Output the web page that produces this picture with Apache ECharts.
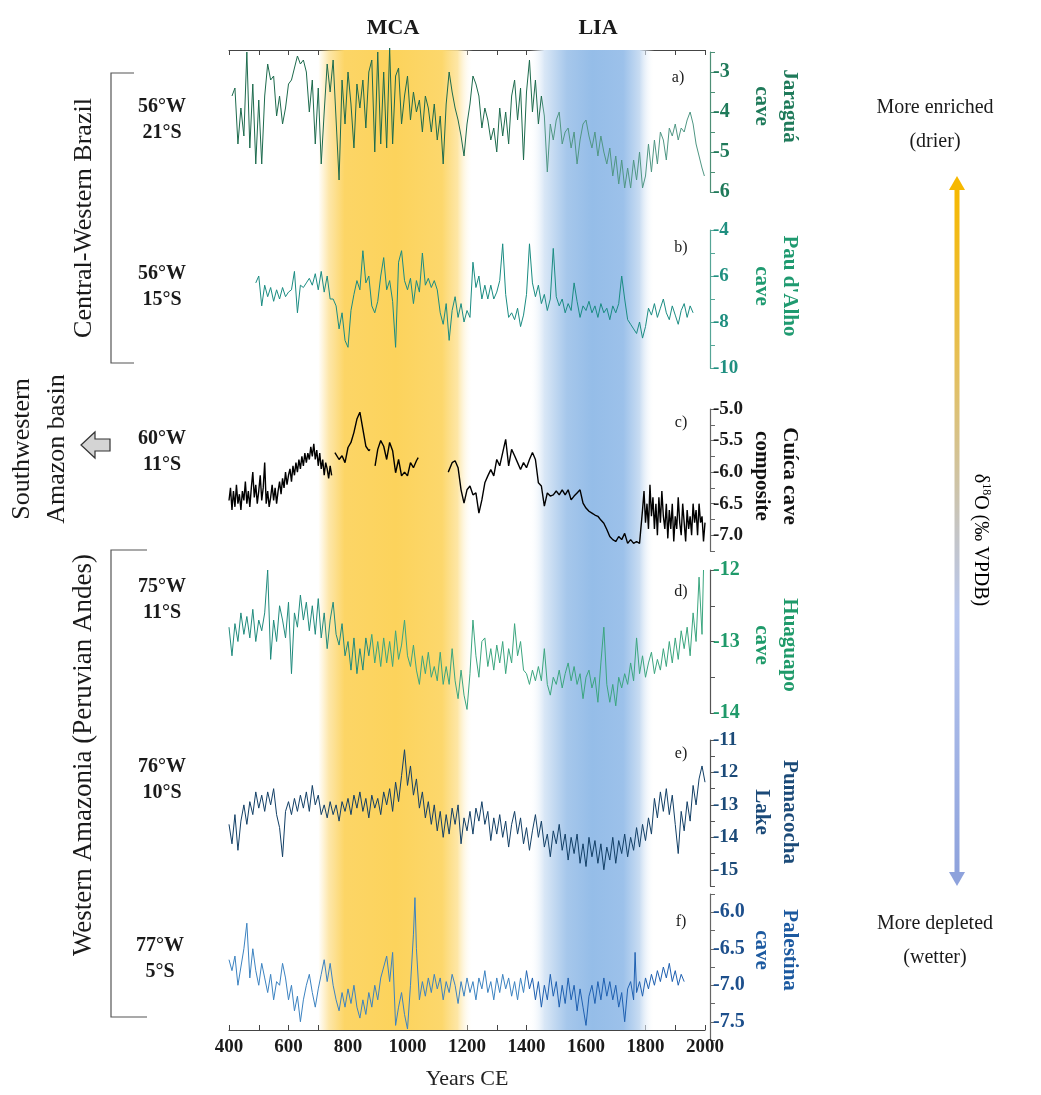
<!DOCTYPE html>
<html><head><meta charset="utf-8">
<script src="https://cdn.jsdelivr.net/npm/echarts/dist/echarts.min.js"></script>
<style>html,body{margin:0;padding:0;background:#fff}#c{width:1041px;height:1095px}</style>
</head><body><div id="c"></div>
<script>
// ---------------- DATA ----------------
const xTickLabels = [400,600,800,1000,1200,1400,1600,1800,2000];
const periods = [{name:'MCA', start:700, end:1220}, {name:'LIA', start:1410, end:1830}];

// a) Jaraguá cave (δ18O ‰)
const jaragua = [[410,-3.6],[420,-3.4],[430,-4.8],[440,-3.9],[450,-4.6],[460,-2.5],[470,-4.9],[480,-3.3],[490,-5.3],[500,-3.7],[510,-5.3],[520,-3.6],[530,-2.8],[540,-3.2],[550,-3.1],[560,-4.1],[570,-3.6],[580,-4.3],[590,-3.9],[600,-3.3],[610,-3.2],[620,-2.9],[630,-2.6],[640,-2.8],[650,-2.7],[660,-3.0],[670,-4.0],[680,-3.2],[690,-4.8],[700,-3.4],[710,-5.3],[720,-4.0],[730,-2.8],[740,-3.5],[750,-2.7],[760,-4.2],[770,-5.7],[780,-3.2],[790,-4.3],[800,-3.0],[810,-3.8],[820,-4.9],[830,-3.3],[840,-3.9],[850,-3.2],[860,-4.4],[870,-3.0],[880,-2.7],[890,-5.0],[900,-2.5],[910,-4.8],[920,-3.0],[930,-4.9],[940,-2.4],[950,-4.8],[960,-3.1],[970,-2.9],[980,-4.3],[990,-3.6],[1000,-3.1],[1010,-4.2],[1020,-3.5],[1030,-4.0],[1040,-3.7],[1050,-4.5],[1060,-3.6],[1070,-3.9],[1080,-4.5],[1090,-3.8],[1100,-4.7],[1110,-4.1],[1120,-5.3],[1130,-3.8],[1140,-3.0],[1150,-3.5],[1160,-3.9],[1170,-4.2],[1180,-4.6],[1190,-5.1],[1200,-4.3],[1210,-3.8],[1220,-3.1],[1230,-3.3],[1240,-3.6],[1250,-4.4],[1260,-3.9],[1270,-4.2],[1280,-4.7],[1290,-4.4],[1300,-5.0],[1310,-3.9],[1320,-4.6],[1330,-4.0],[1340,-4.8],[1350,-3.6],[1360,-3.2],[1370,-4.2],[1380,-3.4],[1390,-5.2],[1400,-3.5],[1410,-2.7],[1420,-4.0],[1430,-3.2],[1440,-4.3],[1450,-3.6],[1460,-4.1],[1470,-5.5],[1480,-4.3],[1490,-4.7],[1500,-4.2],[1510,-4.0],[1520,-4.8],[1530,-4.5],[1540,-4.4],[1550,-4.9],[1560,-4.5],[1570,-5.3],[1580,-4.7],[1590,-4.3],[1600,-4.2],[1610,-4.6],[1620,-4.9],[1630,-4.5],[1640,-5.1],[1650,-4.6],[1660,-5.0],[1670,-5.3],[1680,-4.9],[1690,-5.6],[1700,-5.1],[1710,-5.8],[1720,-5.2],[1730,-5.9],[1740,-5.4],[1750,-5.9],[1760,-5.2],[1770,-5.7],[1780,-5.0],[1790,-5.9],[1800,-5.6],[1810,-4.8],[1820,-5.5],[1830,-4.7],[1840,-5.3],[1850,-4.5],[1860,-4.7],[1870,-5.2],[1880,-4.4],[1890,-4.6],[1900,-4.3],[1910,-4.7],[1920,-4.4],[1930,-4.5],[1940,-4.2],[1950,-4.0],[1960,-4.3],[1970,-4.8],[1980,-5.1],[1990,-5.4],[1998,-5.6]];

// b) Pau d'Alho cave
const pauDAlho = [[490,-6.3],[500,-6.0],[510,-7.3],[520,-6.4],[530,-6.9],[540,-6.5],[550,-7.1],[560,-6.6],[570,-7.0],[580,-6.5],[590,-6.9],[600,-6.7],[610,-6.6],[620,-5.8],[630,-7.6],[640,-6.4],[650,-6.5],[660,-6.3],[670,-6.1],[680,-6.4],[690,-5.9],[700,-6.6],[710,-5.8],[720,-6.7],[730,-6.0],[740,-7.0],[750,-7.0],[760,-7.3],[770,-8.3],[780,-7.6],[790,-8.8],[800,-9.1],[810,-7.5],[820,-6.8],[830,-6.2],[840,-6.6],[850,-4.9],[860,-6.3],[870,-6.0],[880,-7.3],[890,-7.6],[900,-7.1],[910,-6.0],[920,-5.2],[930,-6.6],[940,-6.2],[950,-7.1],[960,-9.1],[970,-5.4],[980,-4.9],[990,-6.2],[1000,-6.6],[1010,-6.1],[1020,-7.2],[1030,-6.2],[1040,-6.7],[1050,-5.0],[1060,-6.4],[1070,-6.1],[1080,-6.5],[1090,-6.2],[1100,-6.6],[1110,-7.6],[1120,-8.1],[1130,-7.2],[1140,-8.8],[1150,-7.5],[1160,-6.9],[1170,-7.8],[1180,-7.2],[1190,-8.0],[1200,-7.5],[1210,-7.8],[1220,-5.4],[1230,-6.5],[1240,-6.0],[1250,-7.0],[1260,-6.4],[1270,-7.0],[1280,-6.4],[1290,-7.0],[1300,-6.7],[1310,-6.2],[1320,-4.6],[1330,-6.8],[1340,-7.8],[1350,-7.6],[1360,-7.9],[1370,-7.4],[1380,-8.2],[1390,-7.7],[1400,-6.8],[1410,-4.6],[1420,-6.3],[1430,-6.9],[1440,-6.4],[1450,-7.2],[1460,-6.8],[1470,-7.5],[1480,-7.0],[1490,-4.8],[1500,-6.9],[1510,-7.3],[1520,-7.0],[1530,-7.6],[1540,-7.2],[1550,-7.5],[1560,-6.3],[1570,-7.1],[1580,-7.8],[1590,-7.3],[1600,-7.5],[1610,-7.1],[1620,-7.6],[1630,-7.3],[1640,-7.8],[1650,-7.2],[1660,-7.6],[1670,-7.4],[1680,-7.9],[1690,-7.3],[1700,-7.6],[1710,-7.2],[1720,-6.0],[1730,-7.0],[1740,-7.9],[1750,-8.1],[1760,-8.3],[1770,-8.5],[1780,-8.0],[1790,-8.7],[1800,-8.2],[1810,-7.4],[1820,-7.7],[1830,-7.2],[1840,-7.8],[1850,-7.4],[1860,-7.0],[1870,-7.6],[1880,-7.9],[1890,-7.3],[1900,-7.7],[1910,-8.1],[1920,-7.5],[1930,-7.2],[1940,-7.8],[1950,-7.3],[1960,-7.6]];

// c) Cuíca cave composite (null = gap in record)
const cuica = [[400,-6.45],[405,-6.25],[410,-6.6],[415,-6.3],[420,-6.55],[425,-6.2],[430,-6.5],[435,-6.35],[440,-6.6],[445,-6.3],[450,-6.45],[455,-6.15],[460,-6.5],[465,-6.3],[470,-6.55],[475,-6.25],[480,-6.0],[485,-6.4],[490,-6.2],[495,-6.5],[500,-6.3],[505,-6.05],[510,-6.45],[515,-6.25],[520,-5.85],[525,-6.5],[530,-6.3],[535,-6.55],[540,-6.4],[545,-6.2],[550,-6.45],[555,-6.25],[560,-6.5],[565,-6.3],[570,-6.15],[575,-6.35],[580,-6.1],[585,-6.25],[590,-6.0],[595,-6.2],[600,-6.05],[605,-5.95],[610,-6.15],[615,-5.9],[620,-6.05],[625,-5.85],[630,-6.0],[635,-5.8],[640,-5.95],[645,-5.75],[650,-5.9],[655,-5.7],[660,-5.85],[665,-5.7],[670,-5.8],[675,-5.6],[680,-5.75],[685,-5.55],[690,-5.8],[695,-5.65],[700,-5.9],[705,-5.7],[710,-5.95],[715,-5.8],[720,-6.05],[725,-5.85],[730,-5.95],[735,-6.1],[740,-5.9],[745,-6.05],[750,null],
[756,-5.69],[770,-5.8],[780,-5.74],[790,-5.85],[800,-5.61],[810,-5.53],[820,-5.37],[830,-5.16],[840,-5.05],[850,-5.32],[860,-5.59],[870,-5.66],[874,-5.64],[882,null],
[891,-5.9],[900,-5.64],[910,-5.5],[920,-5.59],[930,-5.8],[940,-5.53],[950,-5.66],[960,-6.01],[970,-5.8],[980,-6.06],[990,-6.0],[1000,-6.06],[1010,-5.85],[1020,-5.93],[1030,-5.82],[1036,-5.77],[1090,null],
[1137,-6.0],[1150,-5.85],[1160,-5.82],[1170,-5.93],[1180,-6.28],[1190,-6.49],[1200,-6.28],[1210,-6.22],[1220,-6.36],[1230,-6.33],[1240,-6.65],[1250,-6.44],[1260,-6.17],[1270,-6.06],[1280,-5.96],[1290,-6.06],[1300,-5.8],[1310,-5.9],[1320,-5.69],[1330,-5.48],[1340,-5.9],[1350,-5.64],[1360,-5.74],[1370,-5.85],[1380,-5.96],[1390,-5.85],[1400,-5.93],[1410,-5.8],[1420,-5.69],[1430,-5.8],[1440,-6.17],[1450,-6.22],[1460,-6.54],[1470,-6.33],[1480,-6.38],[1490,-6.36],[1500,-6.3],[1510,-6.36],[1520,-6.28],[1530,-6.36],[1540,-6.28],[1550,-6.44],[1560,-6.38],[1570,-6.33],[1580,-6.28],[1590,-6.49],[1600,-6.57],[1610,-6.62],[1620,-6.65],[1630,-6.68],[1640,-6.7],[1650,-6.76],[1660,-6.81],[1670,-6.91],[1680,-7.02],[1690,-7.07],[1700,-7.1],[1710,-7.02],[1720,-7.07],[1730,-6.97],[1740,-7.13],[1750,-7.07],[1760,-7.13],[1770,-7.1],[1780,-7.13],[1785,-7.15],[1790,-6.6],[1795,-6.3],[1800,-6.8],[1805,-6.5],[1810,-6.9],[1815,-6.2],[1820,-6.7],[1825,-6.4],[1830,-6.9],[1835,-6.5],[1840,-7.0],[1845,-6.4],[1850,-6.8],[1855,-6.3],[1860,-6.7],[1865,-6.9],[1870,-6.5],[1875,-7.05],[1880,-6.6],[1885,-6.9],[1890,-6.5],[1895,-7.1],[1900,-6.7],[1905,-6.9],[1910,-6.4],[1915,-6.8],[1920,-7.0],[1925,-6.5],[1930,-6.8],[1935,-7.1],[1940,-6.6],[1945,-6.9],[1950,-6.7],[1955,-7.0],[1960,-6.5],[1965,-6.8],[1970,-6.6],[1975,-7.0],[1980,-6.5],[1985,-6.8],[1990,-6.7],[1995,-7.1],[2000,-6.8]];

// d) Huaguapo cave
const huaguapo = [[400,-12.8],[410,-13.2],[420,-12.75],[430,-13.0],[440,-12.6],[450,-12.9],[460,-12.65],[470,-12.95],[480,-12.55],[490,-13.0],[500,-12.7],[510,-12.85],[520,-12.6],[530,-12.0],[540,-13.25],[550,-12.7],[560,-13.0],[570,-12.5],[580,-12.7],[590,-12.95],[600,-12.45],[610,-13.45],[620,-12.6],[630,-12.8],[640,-12.35],[650,-12.7],[660,-12.45],[670,-12.85],[680,-12.5],[690,-12.9],[700,-12.4],[710,-12.95],[720,-12.6],[730,-13.1],[740,-12.7],[750,-12.45],[760,-12.9],[770,-13.05],[780,-12.75],[790,-13.2],[800,-13.0],[810,-13.4],[820,-12.95],[830,-13.45],[840,-13.1],[850,-13.4],[860,-12.95],[870,-13.2],[880,-12.9],[890,-13.3],[900,-13.0],[910,-13.35],[920,-12.95],[930,-13.3],[940,-13.0],[950,-13.35],[960,-12.85],[970,-13.25],[980,-13.05],[990,-12.7],[1000,-13.2],[1010,-13.35],[1020,-13.05],[1030,-13.4],[1040,-13.6],[1050,-13.2],[1060,-13.45],[1070,-13.15],[1080,-13.5],[1090,-13.35],[1100,-13.55],[1110,-13.15],[1120,-13.6],[1130,-13.35],[1140,-13.6],[1150,-13.1],[1160,-13.55],[1170,-13.8],[1180,-13.4],[1190,-13.75],[1200,-13.95],[1210,-13.45],[1220,-12.7],[1230,-13.2],[1240,-13.5],[1250,-13.0],[1260,-12.95],[1270,-13.35],[1280,-13.1],[1290,-13.4],[1300,-13.05],[1310,-13.3],[1320,-13.0],[1330,-13.45],[1340,-13.1],[1350,-13.3],[1360,-12.75],[1370,-13.2],[1380,-13.0],[1390,-13.4],[1400,-13.45],[1410,-13.6],[1420,-13.4],[1430,-13.55],[1440,-13.35],[1450,-13.55],[1460,-13.1],[1470,-13.6],[1480,-13.75],[1490,-13.5],[1500,-13.6],[1510,-13.4],[1520,-13.65],[1530,-13.45],[1540,-13.3],[1550,-13.55],[1560,-13.35],[1570,-13.6],[1580,-13.45],[1590,-13.8],[1600,-13.5],[1610,-13.4],[1620,-13.65],[1630,-13.5],[1640,-13.85],[1650,-13.3],[1660,-12.8],[1670,-13.6],[1680,-13.85],[1690,-13.6],[1700,-13.9],[1710,-13.5],[1720,-13.65],[1730,-13.45],[1740,-13.6],[1750,-13.3],[1760,-13.55],[1770,-12.95],[1780,-13.45],[1790,-13.2],[1800,-13.5],[1810,-13.3],[1820,-13.15],[1830,-13.45],[1840,-13.25],[1850,-13.4],[1860,-13.1],[1870,-13.35],[1880,-13.0],[1890,-13.3],[1900,-12.95],[1910,-13.25],[1920,-12.85],[1930,-13.1],[1940,-12.8],[1950,-13.2],[1960,-12.6],[1970,-13.0],[1980,-12.1],[1990,-12.9],[1995,-12.0]];

// e) Pumacocha Lake
const pumacocha = [[400,-13.6],[410,-14.2],[420,-13.3],[430,-14.4],[440,-13.5],[450,-13.0],[460,-13.6],[470,-12.9],[480,-13.3],[490,-12.6],[500,-13.1],[510,-12.7],[520,-13.2],[530,-12.6],[540,-13.0],[550,-12.5],[560,-13.3],[570,-13.7],[580,-14.6],[590,-13.2],[600,-12.9],[610,-13.3],[620,-12.8],[630,-13.2],[640,-12.7],[650,-13.1],[660,-12.6],[670,-13.2],[680,-12.4],[690,-13.0],[700,-12.7],[710,-13.3],[720,-13.0],[730,-13.4],[740,-12.9],[750,-13.3],[760,-13.0],[770,-13.5],[780,-12.9],[790,-13.2],[800,-12.8],[810,-13.3],[820,-12.7],[830,-13.1],[840,-12.6],[850,-13.2],[860,-12.8],[870,-13.4],[880,-12.7],[890,-13.1],[900,-12.8],[910,-13.3],[920,-12.6],[930,-13.0],[940,-12.5],[950,-13.2],[960,-12.3],[970,-12.9],[980,-12.1],[990,-11.3],[1000,-12.4],[1010,-11.8],[1020,-12.7],[1030,-12.2],[1040,-13.1],[1050,-12.6],[1060,-13.4],[1070,-12.9],[1080,-13.6],[1090,-13.0],[1100,-13.8],[1110,-13.2],[1120,-14.0],[1130,-13.3],[1140,-13.9],[1150,-13.1],[1160,-13.6],[1170,-13.0],[1180,-14.2],[1190,-13.4],[1200,-13.8],[1210,-13.2],[1220,-13.9],[1230,-13.1],[1240,-13.5],[1250,-12.9],[1260,-13.6],[1270,-13.2],[1280,-14.1],[1290,-13.4],[1300,-13.9],[1310,-13.3],[1320,-14.0],[1330,-13.5],[1340,-14.3],[1350,-13.6],[1360,-13.2],[1370,-13.9],[1380,-13.4],[1390,-14.2],[1400,-13.7],[1410,-14.4],[1420,-13.8],[1430,-13.3],[1440,-14.0],[1450,-13.5],[1460,-14.3],[1470,-13.9],[1480,-14.6],[1490,-13.8],[1500,-14.2],[1510,-13.6],[1520,-14.4],[1530,-13.9],[1540,-14.7],[1550,-14.0],[1560,-14.5],[1570,-13.9],[1580,-14.8],[1590,-14.2],[1600,-14.9],[1610,-14.0],[1620,-14.6],[1630,-14.1],[1640,-14.8],[1650,-14.2],[1660,-15.0],[1670,-14.3],[1680,-14.7],[1690,-14.0],[1700,-14.8],[1710,-14.1],[1720,-14.5],[1730,-13.9],[1740,-14.6],[1750,-14.0],[1760,-14.4],[1770,-13.7],[1780,-14.3],[1790,-13.6],[1800,-14.1],[1810,-13.4],[1820,-13.9],[1830,-12.8],[1840,-13.4],[1850,-12.6],[1860,-13.2],[1870,-12.5],[1880,-13.3],[1890,-12.7],[1900,-13.6],[1910,-14.5],[1920,-13.2],[1930,-13.8],[1940,-12.9],[1950,-13.5],[1960,-12.4],[1970,-13.0],[1980,-12.2],[1990,-11.8],[2000,-12.3]];

// f) Palestina cave
const palestina = [[400,-6.65],[410,-6.8],[420,-6.6],[430,-7.0],[440,-6.75],[450,-6.5],[460,-6.15],[470,-6.9],[480,-6.5],[490,-6.8],[500,-7.0],[510,-6.7],[520,-6.9],[530,-7.1],[540,-6.85],[550,-7.2],[560,-6.95],[570,-7.0],[580,-6.7],[590,-6.9],[600,-7.2],[610,-7.0],[620,-7.35],[630,-7.15],[640,-7.5],[650,-7.2],[660,-7.0],[670,-6.85],[680,-7.1],[690,-7.3],[700,-7.05],[710,-6.85],[720,-6.65],[730,-6.95],[740,-6.7],[750,-7.0],[760,-7.2],[770,-7.35],[780,-7.1],[790,-7.3],[800,-7.05],[810,-7.25],[820,-7.0],[830,-7.3],[840,-7.45],[850,-7.2],[860,-7.4],[870,-7.1],[880,-7.3],[890,-7.0],[900,-7.2],[910,-6.9],[920,-6.75],[930,-6.6],[940,-6.95],[950,-6.55],[960,-7.55],[970,-7.3],[980,-7.1],[990,-7.4],[1000,-7.6],[1010,-7.0],[1020,-6.3],[1025,-5.8],[1030,-6.5],[1040,-7.2],[1050,-6.95],[1060,-7.15],[1070,-6.9],[1080,-7.1],[1090,-6.85],[1100,-7.05],[1110,-6.9],[1120,-7.2],[1130,-6.95],[1140,-7.1],[1150,-6.85],[1160,-7.0],[1170,-7.25],[1180,-6.95],[1190,-7.15],[1200,-6.9],[1210,-7.1],[1220,-6.95],[1230,-7.2],[1240,-6.9],[1250,-7.05],[1260,-6.8],[1270,-7.1],[1280,-6.95],[1290,-7.2],[1300,-6.9],[1310,-7.1],[1320,-6.85],[1330,-7.05],[1340,-6.9],[1350,-7.15],[1360,-6.95],[1370,-7.2],[1380,-6.9],[1390,-7.1],[1400,-6.8],[1410,-7.05],[1420,-6.9],[1430,-7.2],[1440,-6.95],[1450,-7.3],[1460,-7.0],[1470,-7.2],[1480,-6.85],[1490,-7.15],[1500,-6.95],[1510,-7.3],[1520,-7.0],[1530,-7.25],[1540,-6.9],[1550,-7.2],[1560,-7.0],[1570,-7.35],[1580,-7.05],[1590,-7.3],[1600,-7.55],[1610,-7.15],[1620,-7.0],[1630,-7.25],[1640,-6.95],[1650,-7.2],[1660,-6.9],[1670,-7.15],[1680,-6.95],[1690,-7.2],[1700,-7.0],[1710,-7.3],[1720,-7.1],[1730,-7.5],[1740,-7.05],[1750,-6.95],[1760,-7.2],[1765,-6.55],[1770,-7.1],[1780,-6.95],[1790,-7.15],[1800,-6.9],[1810,-7.05],[1820,-6.85],[1830,-7.0],[1840,-6.8],[1850,-6.95],[1860,-6.75],[1870,-6.9],[1880,-6.7],[1890,-6.95],[1900,-6.8],[1910,-7.0],[1920,-6.85],[1930,-6.95]];

// ---------------- LAYOUT / STYLE ----------------
const SERIF = '"Liberation Serif", "Times New Roman", serif';
const X0 = 229, XW = 476;
const hSplit = (c1, c2, at) => ({type:'linear', x:0, y:0, x2:1, y2:0, colorStops:[{offset:0,color:c1},{offset:at,color:c1},{offset:at+0.001,color:c2},{offset:1,color:c2}]});
const panels = [
  {data: jaragua,   min:-6,    max:-2.5,  step:0.5,  every:1,   dec:0, top:52,  h:140, line:hSplit('#1c6a4c','#4f9683',0.655), lw:1, lab:'#1f7a5a', ax:'#4d8f76', fs:20},
  {data: pauDAlho,  min:-10,   max:-4,    step:1,    every:2,   dec:0, top:230, h:138, line:'#1a8c82', lw:1,   lab:'#1f8f80', ax:'#55a596', fs:19},
  {data: cuica,     min:-7.25, max:-5,    step:0.25, every:0.5, dec:1, top:409, h:142, line:'#000000', lw:1.4, lab:'#1a1a1a', ax:'#666', fs:19},
  {data: huaguapo,  min:-14,   max:-12,   step:0.5,  every:1,   dec:0, top:570, h:143, line:hSplit('#1f8a7c','#3aa57e',0.3), lw:1, lab:'#1f9a6a', ax:'#555', fs:20},
  {data: pumacocha, min:-15.5, max:-11,   step:0.5,  every:1,   dec:0, top:740, h:146, line:'#123f66', lw:1,   lab:'#1b4a78', ax:'#555', fs:19},
  {data: palestina, min:-7.75, max:-5.75, step:0.25, every:0.5, dec:1, top:894, h:146, line:hSplit('#3b82c0','#1d5fb0',0.65), lw:1, lab:'#1d4f8c', ax:'#666', fs:20}
];

const grids = [{left:X0, width:XW, top:50, height:990}];
panels.forEach(p => grids.push({left:X0, width:XW, top:p.top, height:p.h}));

const xAxes = [
  {gridIndex:0, type:'value', position:'bottom', min:400, max:2000, interval:100,
   axisLine:{lineStyle:{color:'#444', width:1.2}}, axisTick:{inside:true, length:5, lineStyle:{color:'#444'}},
   splitLine:{show:false},
   axisLabel:{margin:8, color:'#1a1a1a', fontFamily:SERIF, fontWeight:'bold', fontSize:19,
     formatter: v => xTickLabels.includes(v) ? String(v) : ''},
   name:'Years CE', nameLocation:'middle', nameGap:38, nameTextStyle:{fontFamily:SERIF, fontSize:22, color:'#222'}},
  {gridIndex:0, type:'value', position:'top', min:400, max:2000, interval:100,
   axisLine:{lineStyle:{color:'#444', width:1.2}}, axisTick:{inside:true, length:5, lineStyle:{color:'#444'}},
   splitLine:{show:false}, axisLabel:{show:false}}
];
panels.forEach((p,i) => xAxes.push({gridIndex:i+1, type:'value', min:400, max:2000, show:false}));

const yAxes = [{gridIndex:0, type:'value', min:0, max:1, show:false}];
panels.forEach((p,i) => yAxes.push({
  gridIndex:i+1, type:'value', position:'right', offset:5, min:p.min, max:p.max, interval:p.step,
  axisLine:{show:true, lineStyle:{color:p.ax, width:1.2}},
  axisTick:{show:true, length:5, lineStyle:{color:p.ax}},
  splitLine:{show:false},
  axisLabel:{margin:3, color:p.lab, fontFamily:SERIF, fontWeight:'bold', fontSize:p.fs,
    showMinLabel:true, showMaxLabel:true,
    formatter: v => { const r = v / p.every; return Math.abs(r - Math.round(r)) < 1e-6 ? v.toFixed(p.dec) : ''; }}
}));

const grad = (stops) => ({type:'linear', x:0, y:0, x2:1, y2:0, colorStops: stops.map(s => ({offset:s[0], color:s[1]}))});
const bandColors = [
  grad([[0,'rgba(253,214,110,0)'],[0.07,'rgba(252,214,110,0.6)'],[0.17,'#fcd566'],[0.5,'#fcd35c'],[0.8,'#fcd76c'],[0.9,'rgba(253,226,150,0.85)'],[1,'rgba(255,255,255,0)']]),
  grad([[0,'rgba(255,255,255,0)'],[0.12,'#d9e7f6'],[0.3,'#a6c7eb'],[0.5,'#95bde8'],[0.75,'#9cc1ea'],[0.88,'#c8dcf2'],[1,'rgba(255,255,255,0)']])
];

const series = [{
  type:'line', xAxisIndex:0, yAxisIndex:0, data:[], silent:true, z:0,
  markArea:{silent:true, data: periods.map((p,i) => [{xAxis:p.start, itemStyle:{color:bandColors[i]}}, {xAxis:p.end}])}
}];
panels.forEach((p,i) => series.push({
  type:'line', xAxisIndex:i+2, yAxisIndex:i+1, showSymbol:false, symbol:'none', clip:false, z:5,
  connectNulls:false, animation:false,
  lineStyle:{color:p.line, width:p.lw}, itemStyle:{color:p.line},
  data: p.data.map(d => [d[0], d[1] === null ? '-' : d[1]])
}));

// --------------- annotations ---------------
const T = (text, x, y, o) => Object.assign({type:'text', x, y, z:50, style:Object.assign({text, fill:'#1a1a1a', font:'20px ' + SERIF, textAlign:'center', textVerticalAlign:'middle'}, o && o.style || {})}, o && o.rot !== undefined ? {rotation:o.rot} : {});
const TITLE_X = 775;
const tStyle = (c) => ({font:'bold 21px ' + SERIF, fill:c, lineHeight:28});
const graphic = [
  T('MCA', 393, 28, {style:{font:'bold 22px ' + SERIF}}),
  T('LIA', 598, 28, {style:{font:'bold 22px ' + SERIF}}),
  T('a)', 678, 78, {style:{font:'16px ' + SERIF}}),
  T('b)', 681, 248, {style:{font:'16px ' + SERIF}}),
  T('c)', 681, 423, {style:{font:'16px ' + SERIF}}),
  T('d)', 681, 592, {style:{font:'16px ' + SERIF}}),
  T('e)', 681, 754, {style:{font:'16px ' + SERIF}}),
  T('f)', 681, 922, {style:{font:'16px ' + SERIF}}),
  // right titles
  T('Jaraguá\ncave', TITLE_X, 106, {rot:-Math.PI/2, style:tStyle('#1f7a5a')}),
  T("Pau d'Alho\ncave", TITLE_X, 286, {rot:-Math.PI/2, style:tStyle('#1f9a70')}),
  T('Cuíca cave\ncomposite', TITLE_X, 476, {rot:-Math.PI/2, style:tStyle('#111')}),
  T('Huaguapo\ncave', TITLE_X, 645, {rot:-Math.PI/2, style:tStyle('#1f9a6a')}),
  T('Pumacocha\nLake', TITLE_X, 812, {rot:-Math.PI/2, style:tStyle('#1b4a78')}),
  T('Palestina\ncave', TITLE_X, 950, {rot:-Math.PI/2, style:tStyle('#1d5aa0')}),
  // coordinates
  T('56°W\n21°S', 162, 120, {style:{font:'bold 20px ' + SERIF, lineHeight:26}}),
  T('56°W\n15°S', 162, 287, {style:{font:'bold 20px ' + SERIF, lineHeight:26}}),
  T('60°W\n11°S', 162, 452, {style:{font:'bold 20px ' + SERIF, lineHeight:26}}),
  T('75°W\n11°S', 162, 600, {style:{font:'bold 20px ' + SERIF, lineHeight:26}}),
  T('76°W\n10°S', 162, 780, {style:{font:'bold 20px ' + SERIF, lineHeight:26}}),
  T('77°W\n5°S', 160, 959, {style:{font:'bold 20px ' + SERIF, lineHeight:26}}),
  // region labels
  T('Central-Western Brazil', 84, 218, {rot:Math.PI/2, style:{font:'26px ' + SERIF}}),
  T('Southwestern\nAmazon basin', 40, 449, {rot:Math.PI/2, style:{font:'26px ' + SERIF, lineHeight:35}}),
  T('Western Amazonia (Peruvian Andes)', 84, 755, {rot:Math.PI/2, style:{font:'27px ' + SERIF}}),
  {type:'polyline', z:50, shape:{points:[[134,73],[111,73],[111,363],[134,363]]}, style:{stroke:'#555', lineWidth:1.2, fill:null}},
  {type:'polyline', z:50, shape:{points:[[147,550],[111,550],[111,1017],[147,1017]]}, style:{stroke:'#555', lineWidth:1.2, fill:null}},
  {type:'polygon', z:50, shape:{points:[[81,445],[95,432],[95,439],[110,439],[110,451],[95,451],[95,458]]}, style:{fill:'#d4d4d4', stroke:'#333', lineWidth:1.2}},
  // right legend
  T('More enriched\n(drier)', 935, 125, {style:{font:'20px ' + SERIF, lineHeight:34}}),
  T('More depleted\n(wetter)', 935, 941, {style:{font:'20px ' + SERIF, lineHeight:34}}),
  {type:'rect', z:50, shape:{x:954.5, y:188, width:5, height:686},
   style:{fill:{type:'linear', x:0, y:0, x2:0, y2:1, colorStops:[{offset:0,color:'#f6b800'},{offset:0.25,color:'#e6bf55'},{offset:0.5,color:'#c5c5c5'},{offset:0.62,color:'#b7c6ee'},{offset:1,color:'#8ea2dc'}]}}},
  {type:'polygon', z:50, shape:{points:[[949,190],[965,190],[957,176]]}, style:{fill:'#f6b800'}},
  {type:'polygon', z:50, shape:{points:[[949,872],[965,872],[957,886]]}, style:{fill:'#8ea2dc'}},
  {type:'text', z:50, x:980, y:540, rotation:-Math.PI/2,
   style:{text:'{a|δ}{s|18}{a|O (‰ VPDB)}', textAlign:'center', textVerticalAlign:'middle',
     rich:{a:{fontFamily:SERIF, fontSize:20, color:'#1a1a1a', lineHeight:24}, s:{fontFamily:SERIF, fontSize:12, color:'#1a1a1a', verticalAlign:'top', lineHeight:24}}}}
];

const chart = echarts.init(document.getElementById('c'), null, {renderer:'canvas'});
chart.setOption({
  animation:false, backgroundColor:'#fff',
  grid: grids, xAxis: xAxes, yAxis: yAxes, series: series, graphic: graphic
});
</script>
</body></html>
